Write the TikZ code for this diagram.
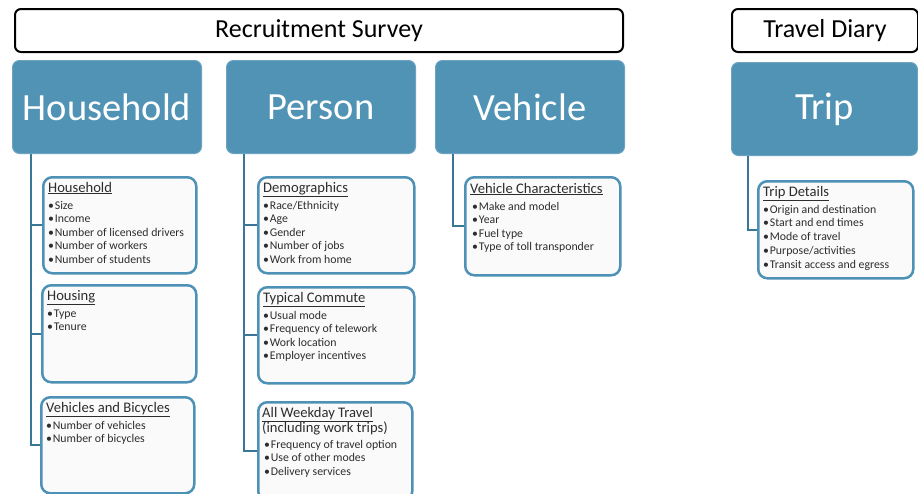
\documentclass[tikz,border=0pt]{standalone}
\usepackage{fontspec}
\setmainfont{Carlito}
\usetikzlibrary{calc,positioning}

\definecolor{tileblue}{RGB}{81,147,181}
\definecolor{cardblue}{RGB}{77,145,182}
\definecolor{stemblue}{RGB}{58,118,150}
\definecolor{inkgray}{RGB}{45,45,45}

\newcommand{\itemdot}{\textbullet\hspace{0.8pt}}

\begin{document}
\begin{tikzpicture}[x=1pt,y=-1pt,
  stage/.style={draw=black, line width=2pt, rounded corners=6pt, fill=white,
    anchor=north west, inner sep=0pt, font=\fontsize{26}{30}\selectfont},
  tile/.style={fill=tileblue, draw=tileblue!85!white, line width=1pt, rounded corners=7pt,
    anchor=north west, inner sep=0pt, text=white, font=\fontsize{38.5}{44}\selectfont,
    minimum width=189pt, minimum height=93pt},
  card/.style={draw=cardblue, line width=2.5pt, rounded corners=9pt, fill=black!2,
    anchor=north west, inner sep=0pt, minimum width=154pt, minimum height=96pt},
  cardhead/.style={anchor=base west, inner sep=0pt, text=inkgray, font=\fontsize{14.6}{17}\selectfont},
  carditem/.style={anchor=base west, inner sep=0pt, text=inkgray, font=\fontsize{11.8}{13.5}\selectfont},
  stem/.style={draw=stemblue, line width=2pt}
]
\useasboundingbox (0,0) rectangle (918,493);

% survey headers
\node[stage, minimum width=608pt, minimum height=43pt] (recruit) at (14,8) {Recruitment Survey};
\node[stage, minimum width=186pt, minimum height=43pt] (diary) at (731,8) {Travel Diary};

% main tiles
\node[tile] (hh) at (12,60) {Household};
\node[tile] (ps) at (226,60) {Person};
\node[tile] (vh) at (435,60) {Vehicle};
\node[tile, minimum width=186pt] (tr) at (731,62) {Trip};

\coordinate (hh-root) at ($(hh.south west)+(19,0)$);
\coordinate (ps-root) at ($(ps.south west)+(18,0)$);
\coordinate (vh-root) at ($(vh.south west)+(18,0)$);
\coordinate (tr-root) at ($(tr.south west)+(17,0)$);

% household cards
\node[card, minimum width=153pt] (hh1) at (42,176) {};
\node[card, minimum height=97pt] (hh2) at (41,284) {};
\node[card, minimum width=153pt] (hh3) at (40,396) {};
\draw[stem] (hh-root) |- (hh1.west);
\draw[stem] (hh-root) |- (hh2.west);
\draw[stem] (hh-root) |- (hh3.west);

\node[cardhead] (hh1-head) at ($(hh1.north west)+(6,16)$) {\underline{Household}};
\foreach \t [count=\i] in {Size,Income,Number of licensed drivers,Number of workers,Number of students}
  \node[carditem] (hh1-\i) at ($(hh1.north west)+(6,19.5+13.5*\i)$) {\itemdot\t};
\node[cardhead] (hh2-head) at ($(hh2.north west)+(6,16)$) {\underline{Housing}};
\foreach \t [count=\i] in {Type,Tenure}
  \node[carditem] (hh2-\i) at ($(hh2.north west)+(6,19.5+13.5*\i)$) {\itemdot\t};
\node[cardhead] (hh3-head) at ($(hh3.north west)+(6,16)$) {\underline{Vehicles and Bicycles}};
\foreach \t [count=\i] in {Number of vehicles,Number of bicycles}
  \node[carditem] (hh3-\i) at ($(hh3.north west)+(6,19.5+13.5*\i)$) {\itemdot\t};

% person cards
\node[card, minimum width=156pt] (ps1) at (257,176) {};
\node[card, minimum width=156pt] (ps2) at (257,286) {};
\node[card, minimum height=98pt] (ps3) at (257,401) {};
\draw[stem] (ps-root) |- (ps1.west);
\draw[stem] (ps-root) |- (ps2.west);
\draw[stem] (ps-root) |- (ps3.west);

\node[cardhead] (ps1-head) at ($(ps1.north west)+(6,16)$) {\underline{Demographics}};
\foreach \t [count=\i] in {Race/Ethnicity,Age,Gender,Number of jobs,Work from home}
  \node[carditem] (ps1-\i) at ($(ps1.north west)+(6,19.5+13.5*\i)$) {\itemdot\t};
\node[cardhead] (ps2-head) at ($(ps2.north west)+(6,16)$) {\underline{Typical Commute}};
\foreach \t [count=\i] in {Usual mode,Frequency of telework,Work location,Employer incentives}
  \node[carditem] (ps2-\i) at ($(ps2.north west)+(6,19.5+13.5*\i)$) {\itemdot\t};
\node[cardhead] (ps3-head) at ($(ps3.north west)+(5,16)$) {\underline{All Weekday Travel}};
\node[cardhead] (ps3-sub) at ($(ps3.north west)+(5,31)$) {(including work trips)};
\foreach \t [count=\i] in {Frequency of travel option,Use of other modes,Delivery services}
  \node[carditem] (ps3-\i) at ($(ps3.north west)+(7,33.5+13.5*\i)$) {\itemdot\t};

% vehicle card
\node[card, minimum width=155pt, minimum height=98pt] (vh1) at (464,176) {};
\draw[stem] (vh-root) |- (vh1.west);
\node[cardhead] (vh1-head) at ($(vh1.north west)+(6,17)$) {\underline{Vehicle Characteristics}};
\foreach \t [count=\i] in {Make and model,Year,Fuel type,Type of toll transponder}
  \node[carditem] (vh1-\i) at ($(vh1.north west)+(8,20.5+13.5*\i)$) {\itemdot\t};

% trip card
\node[card, minimum width=155pt, minimum height=97pt] (tr1) at (757,180) {};
\draw[stem] (tr-root) |- (tr1.west);
\node[cardhead] (tr1-head) at ($(tr1.north west)+(6,16)$) {\underline{Trip Details}};
\foreach \t [count=\i] in {Origin and destination,Start and end times,Mode of travel,Purpose/activities,Transit access and egress}
  \node[carditem] (tr1-\i) at ($(tr1.north west)+(6,19.5+13.7*\i)$) {\itemdot\t};
\end{tikzpicture}
\end{document}
